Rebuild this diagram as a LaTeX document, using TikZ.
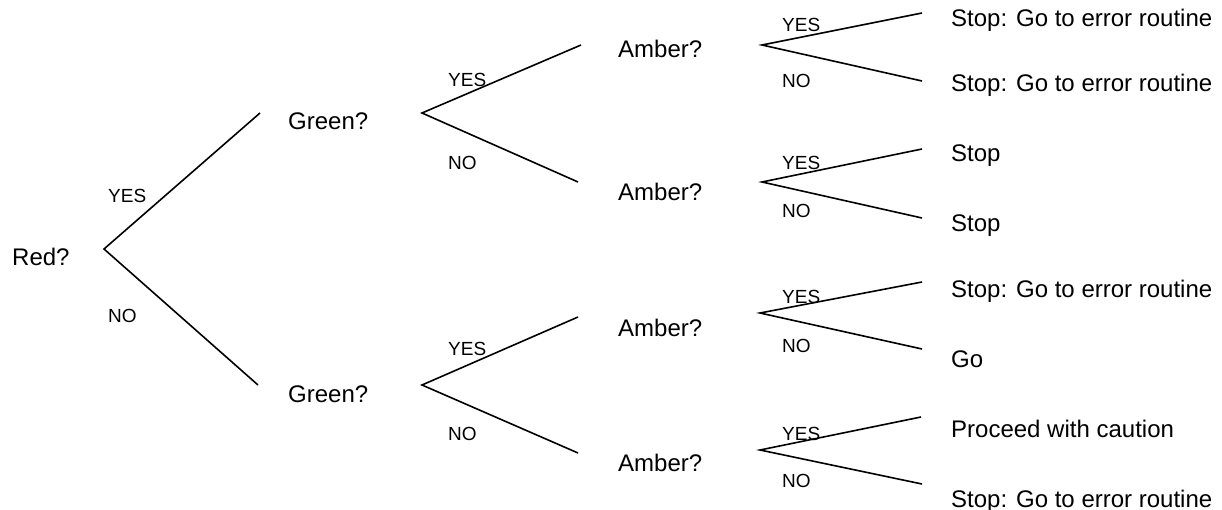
\documentclass[tikz,border=0pt]{standalone}
\usepackage{fontspec}
\setmainfont{Liberation Sans}
\begin{document}
\begin{tikzpicture}[x=1pt,y=-1pt,
  q/.style={inner sep=0pt,anchor=base west,font=\fontsize{24}{28}\selectfont},
  lbl/.style={inner sep=0pt,anchor=base west,font=\fontsize{19}{23}\selectfont},
  conn/.style={line width=1.6pt,black}]
\useasboundingbox (0,0) rectangle (1222,510);
% question nodes
\node[q] (red) at (12,266) {Red?};
\node[q] (g1) at (288,130) {Green?};
\node[q] (g2) at (288,402) {Green?};
\node[q] (a1) at (618,58) {Amber?};
\node[q] (a2) at (618,201) {Amber?};
\node[q] (a3) at (618,336) {Amber?};
\node[q] (a4) at (618,471) {Amber?};
% leaves
\node[q] (l1) at (951,27) {Stop: Go to error routine};
\node[q] (l2) at (951,92) {Stop: Go to error routine};
\node[q] (l3) at (951,162) {Stop};
\node[q] (l4) at (951,232) {Stop};
\node[q] (l5) at (951,298) {Stop: Go to error routine};
\node[q] (l6) at (951,367) {Go};
\node[q] (l7) at (951,437) {Proceed with caution};
\node[q] (l8) at (951,507) {Stop: Go to error routine};
% fork and end coordinates
\coordinate (f0) at (104,249);
\coordinate (e0a) at (260,113);
\coordinate (e0b) at (258,385);
\coordinate (f1) at (422,113);
\coordinate (e1a) at (581,45);
\coordinate (e1b) at (578,182);
\coordinate (f2) at (422,385);
\coordinate (e2a) at (578,317);
\coordinate (e2b) at (578,453);
\coordinate (f3) at (762,45);
\coordinate (e3a) at (922,13);
\coordinate (e3b) at (922,81);
\coordinate (f4) at (762,182);
\coordinate (e4a) at (922,149);
\coordinate (e4b) at (922,218);
\coordinate (f5) at (760,313);
\coordinate (e5a) at (922,282);
\coordinate (e5b) at (922,349);
\coordinate (f6) at (760,450);
\coordinate (e6a) at (921,417);
\coordinate (e6b) at (922,484);
% connectors
\draw[conn] (e0a) -- (f0) -- (e0b);
\draw[conn] (e1a) -- (f1) -- (e1b);
\draw[conn] (e2a) -- (f2) -- (e2b);
\draw[conn] (e3a) -- (f3) -- (e3b);
\draw[conn] (e4a) -- (f4) -- (e4b);
\draw[conn] (e5a) -- (f5) -- (e5b);
\draw[conn] (e6a) -- (f6) -- (e6b);
% labels
\node[lbl] (y0) at (108,203) {YES};
\node[lbl] (n0) at (108,322) {NO};
\node[lbl] (y1) at (448,87) {YES};
\node[lbl] (n1) at (448,170) {NO};
\node[lbl] (y2) at (448,355) {YES};
\node[lbl] (n2) at (448,440) {NO};
\node[lbl] (y3) at (782,32) {YES};
\node[lbl] (n3) at (782,88) {NO};
\node[lbl] (y4) at (782,170) {YES};
\node[lbl] (n4) at (782,218) {NO};
\node[lbl] (y5) at (782,303) {YES};
\node[lbl] (n5) at (782,352) {NO};
\node[lbl] (y6) at (782,440) {YES};
\node[lbl] (n6) at (782,487) {NO};
\end{tikzpicture}
\end{document}
